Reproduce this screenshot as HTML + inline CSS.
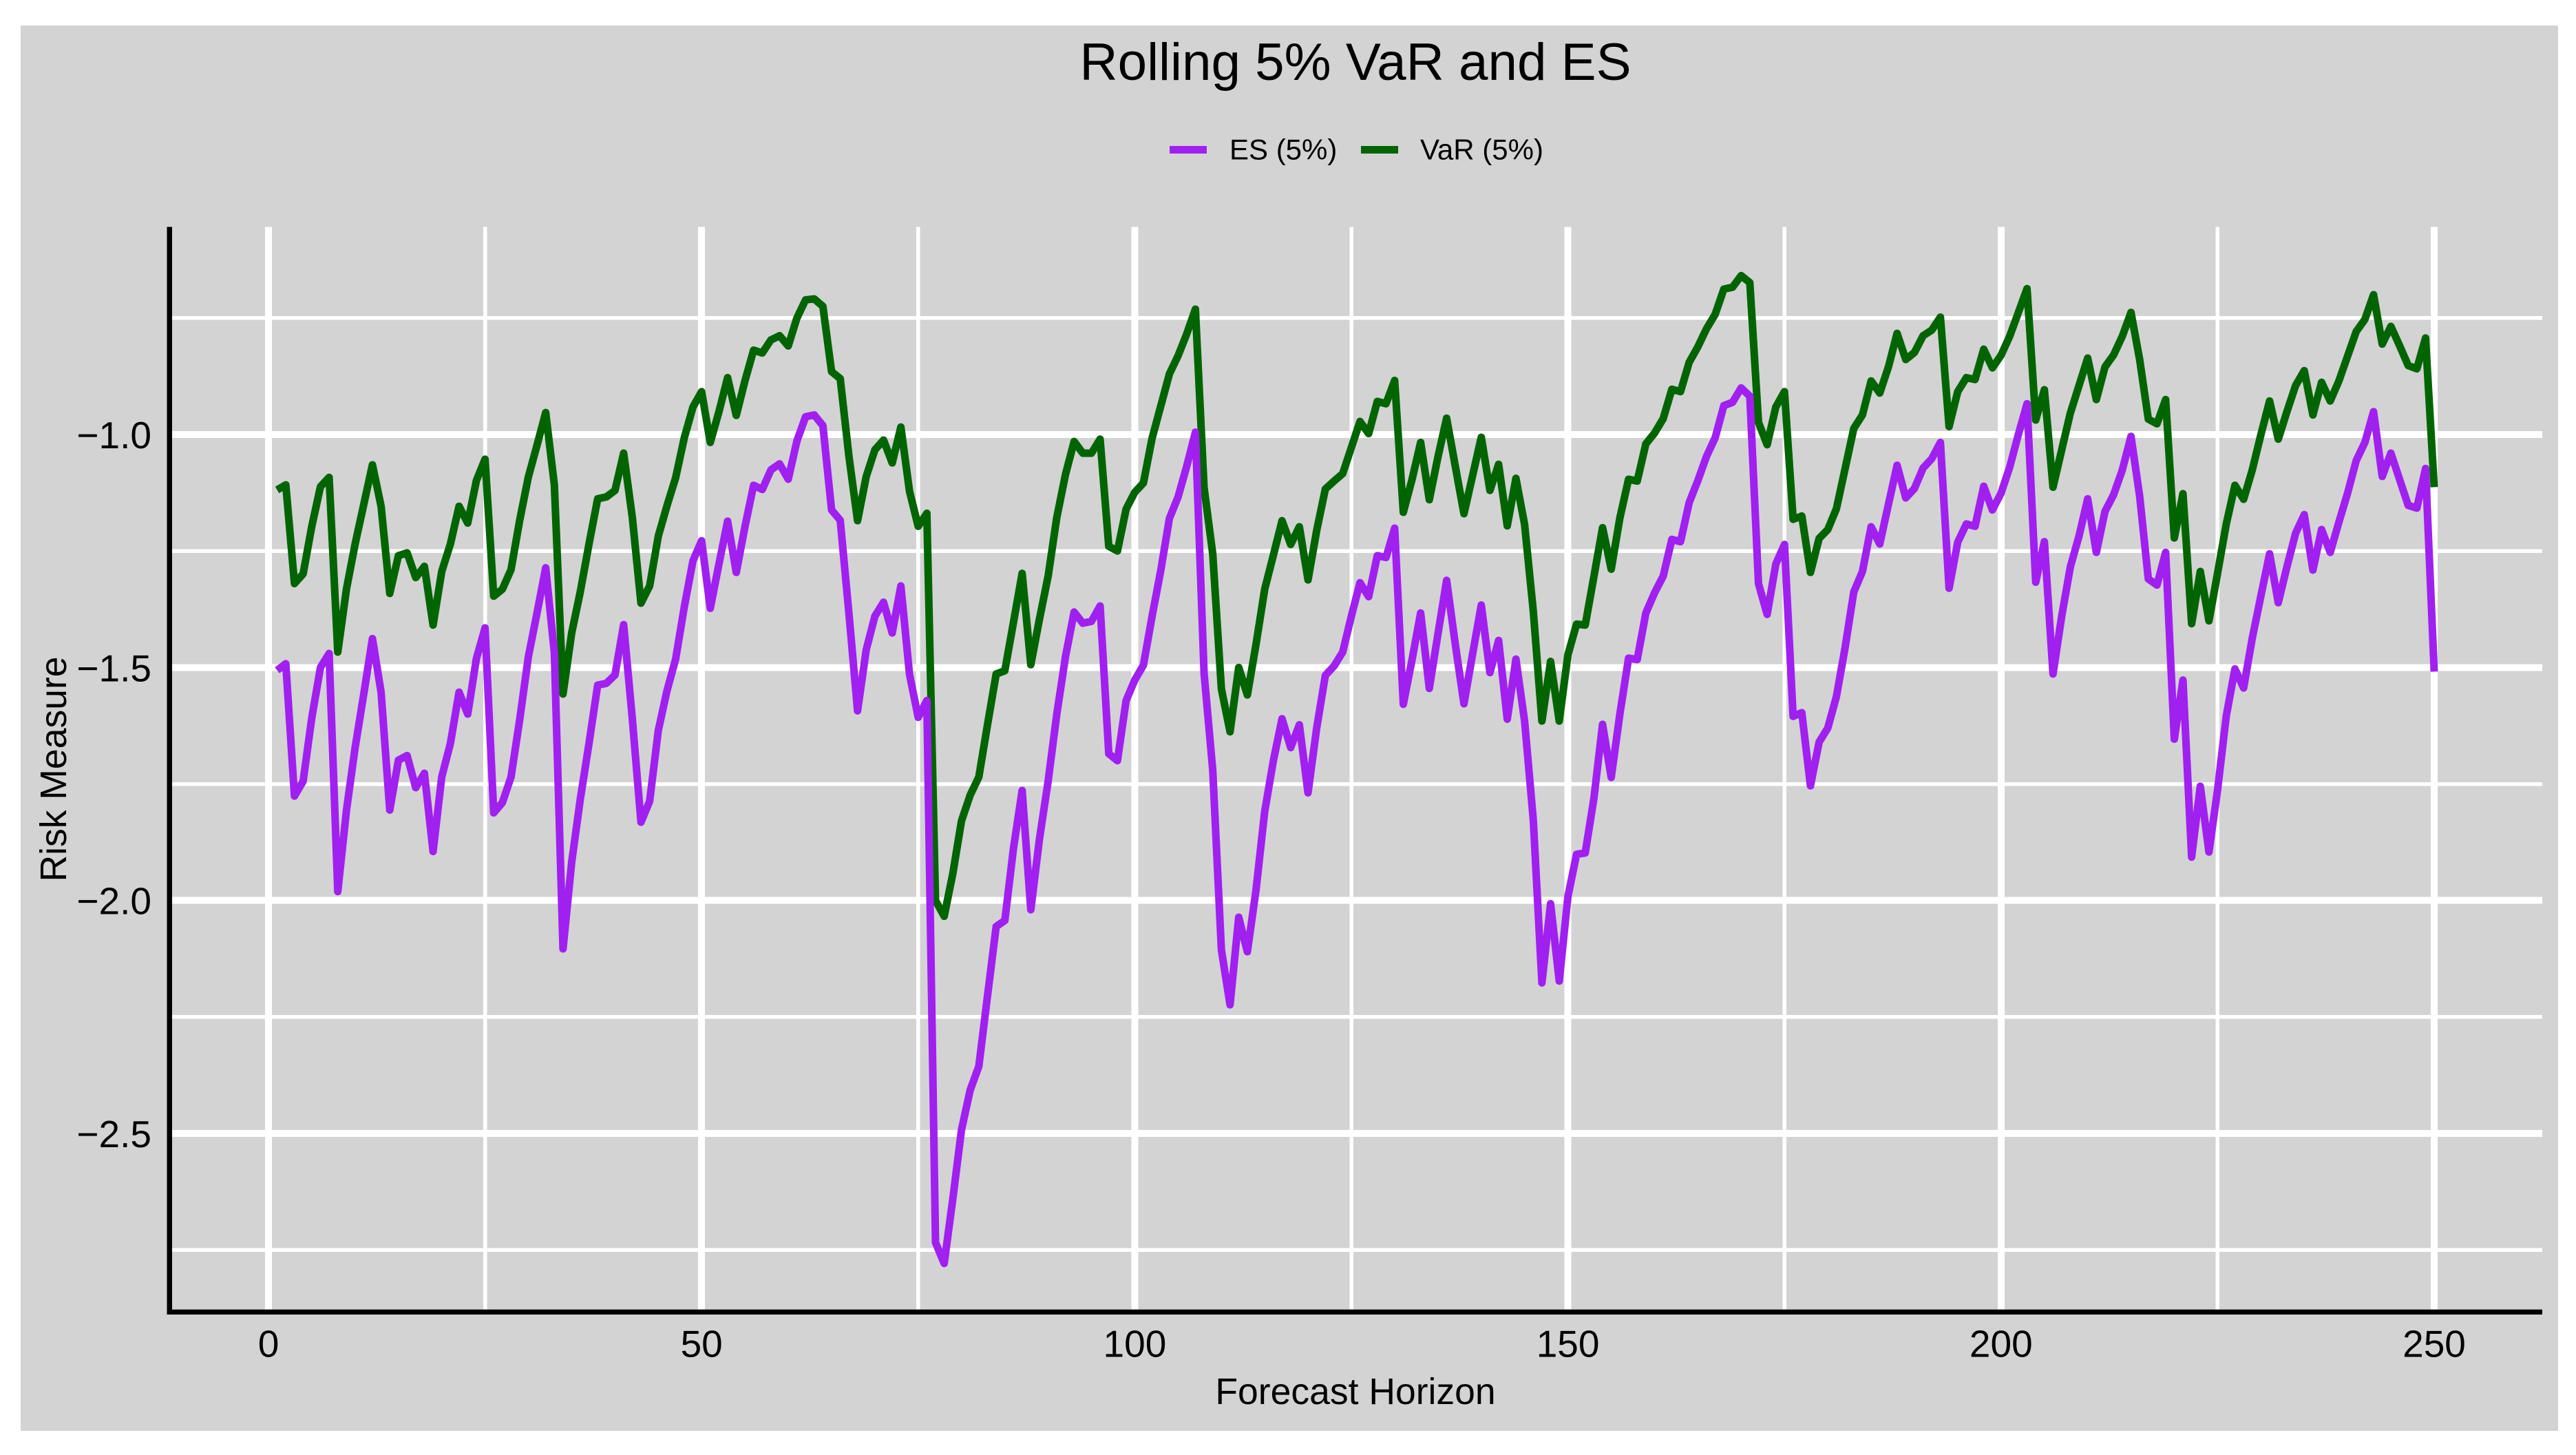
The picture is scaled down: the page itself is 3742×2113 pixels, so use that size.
<!DOCTYPE html>
<html lang="en">
<head>
<meta charset="utf-8">
<title>Rolling 5% VaR and ES</title>
<style>
html,body{margin:0;padding:0;background:#fff;}
svg{display:block;font-family:"Liberation Sans",Arial,sans-serif;}
text{fill:#000;}
</style>
</head>
<body>
<svg id="chart" xmlns="http://www.w3.org/2000/svg" width="3742" height="2113" viewBox="0 0 3742 2113">
  <rect x="30" y="37" width="3686" height="2041" fill="#D3D3D3"/>
  <g id="grid" shape-rendering="crispEdges"></g>
  <g id="series"></g>
  <rect x="242.5" y="329.5" width="7.5" height="1579.5" fill="#000"/>
  <rect x="242.5" y="1901.7" width="3450.5" height="7.3" fill="#000"/>
  <g id="ticks" font-size="55"></g>
  <text x="1969" y="116" font-size="76.4" text-anchor="middle">Rolling 5% VaR and ES</text>
  <g>
    <rect x="1699" y="212" width="54" height="11" fill="#A020F0"/>
    <text x="1786" y="231.7" font-size="42">ES (5%)</text>
    <rect x="1977" y="212" width="54" height="11" fill="#006400"/>
    <text x="2063" y="231.7" font-size="42">VaR (5%)</text>
  </g>
  <text x="1969" y="2039" font-size="53.5" text-anchor="middle">Forecast Horizon</text>
  <text transform="translate(96 1117) rotate(-90)" font-size="53.5" text-anchor="middle">Risk Measure</text>
</svg>
<script>
const esValues = [
-1.506,-1.492,-1.776,-1.744,-1.608,-1.5,-1.47,-1.981,-1.807,-1.672,
-1.557,-1.438,-1.553,-1.806,-1.699,-1.689,-1.758,-1.727,-1.895,-1.735,
-1.663,-1.553,-1.6,-1.481,-1.415,-1.812,-1.79,-1.735,-1.612,-1.477,
-1.383,-1.286,-1.468,-2.104,-1.918,-1.782,-1.663,-1.538,-1.534,-1.516,
-1.408,-1.61,-1.832,-1.787,-1.635,-1.55,-1.482,-1.37,-1.271,-1.228,
-1.373,-1.278,-1.186,-1.296,-1.198,-1.109,-1.118,-1.076,-1.063,-1.096,
-1.014,-0.962,-0.958,-0.981,-1.162,-1.184,-1.383,-1.593,-1.462,-1.39,
-1.36,-1.426,-1.325,-1.515,-1.607,-1.571,-2.734,-2.779,-2.64,-2.492,
-2.407,-2.356,-2.205,-2.056,-2.043,-1.888,-1.764,-2.02,-1.868,-1.744,
-1.6,-1.477,-1.381,-1.405,-1.401,-1.368,-1.685,-1.7,-1.571,-1.527,
-1.495,-1.39,-1.292,-1.18,-1.134,-1.068,-0.995,-1.512,-1.72,-2.106,
-2.224,-2.036,-2.11,-1.977,-1.809,-1.7,-1.61,-1.672,-1.623,-1.769,
-1.63,-1.517,-1.497,-1.467,-1.39,-1.318,-1.348,-1.26,-1.264,-1.201,
-1.579,-1.484,-1.383,-1.545,-1.428,-1.313,-1.45,-1.578,-1.471,-1.366,
-1.511,-1.442,-1.611,-1.482,-1.615,-1.826,-2.177,-2.007,-2.173,-1.992,
-1.901,-1.898,-1.781,-1.622,-1.736,-1.6,-1.48,-1.483,-1.383,-1.34,
-1.304,-1.225,-1.23,-1.146,-1.099,-1.047,-1.007,-0.938,-0.931,-0.9,
-0.918,-1.32,-1.386,-1.278,-1.236,-1.605,-1.597,-1.754,-1.66,-1.63,
-1.562,-1.457,-1.338,-1.294,-1.198,-1.235,-1.15,-1.066,-1.136,-1.116,
-1.072,-1.052,-1.017,-1.33,-1.231,-1.192,-1.197,-1.111,-1.162,-1.126,
-1.07,-1.0,-0.934,-1.317,-1.23,-1.514,-1.39,-1.284,-1.218,-1.138,
-1.253,-1.165,-1.129,-1.076,-1.004,-1.132,-1.31,-1.323,-1.253,-1.654,
-1.527,-1.907,-1.755,-1.896,-1.762,-1.604,-1.503,-1.544,-1.437,-1.346,
-1.256,-1.361,-1.284,-1.212,-1.172,-1.291,-1.204,-1.253,-1.188,-1.126,
-1.056,-1.017,-0.951,-1.09,-1.04,-1.096,-1.152,-1.158,-1.073,-1.509
];
const varValues = [
-1.119,-1.108,-1.32,-1.299,-1.197,-1.112,-1.092,-1.467,-1.332,-1.235,
-1.15,-1.065,-1.154,-1.341,-1.26,-1.254,-1.307,-1.283,-1.409,-1.294,
-1.235,-1.154,-1.19,-1.099,-1.053,-1.347,-1.332,-1.29,-1.184,-1.091,
-1.023,-0.953,-1.108,-1.557,-1.426,-1.337,-1.235,-1.138,-1.134,-1.12,
-1.04,-1.178,-1.362,-1.325,-1.218,-1.153,-1.093,-1.007,-0.941,-0.908,
-1.017,-0.951,-0.878,-0.959,-0.885,-0.819,-0.825,-0.797,-0.788,-0.81,
-0.75,-0.711,-0.709,-0.725,-0.865,-0.88,-1.046,-1.185,-1.09,-1.033,
-1.012,-1.061,-0.984,-1.122,-1.197,-1.169,-2.0,-2.034,-1.942,-1.829,
-1.774,-1.735,-1.623,-1.514,-1.507,-1.403,-1.298,-1.494,-1.396,-1.304,
-1.178,-1.086,-1.015,-1.04,-1.04,-1.01,-1.24,-1.25,-1.16,-1.124,
-1.104,-1.008,-0.939,-0.87,-0.831,-0.784,-0.731,-1.114,-1.256,-1.546,
-1.638,-1.5,-1.559,-1.45,-1.332,-1.259,-1.185,-1.236,-1.198,-1.312,
-1.206,-1.117,-1.1,-1.084,-1.028,-0.972,-0.998,-0.929,-0.934,-0.884,
-1.167,-1.097,-1.017,-1.14,-1.048,-0.965,-1.068,-1.17,-1.088,-1.006,
-1.12,-1.064,-1.196,-1.094,-1.193,-1.378,-1.615,-1.487,-1.615,-1.473,
-1.407,-1.409,-1.305,-1.2,-1.289,-1.179,-1.096,-1.1,-1.02,-0.997,
-0.966,-0.903,-0.908,-0.845,-0.812,-0.773,-0.742,-0.688,-0.684,-0.659,
-0.674,-0.974,-1.022,-0.941,-0.908,-1.182,-1.175,-1.296,-1.223,-1.204,
-1.159,-1.073,-0.987,-0.958,-0.885,-0.911,-0.855,-0.783,-0.839,-0.824,
-0.788,-0.776,-0.748,-0.983,-0.908,-0.878,-0.882,-0.817,-0.857,-0.83,
-0.789,-0.738,-0.687,-0.969,-0.904,-1.113,-1.033,-0.954,-0.895,-0.836,
-0.925,-0.855,-0.829,-0.789,-0.738,-0.839,-0.967,-0.977,-0.925,-1.222,
-1.127,-1.406,-1.294,-1.4,-1.297,-1.192,-1.109,-1.139,-1.076,-1.0,
-0.928,-1.01,-0.951,-0.895,-0.863,-0.958,-0.888,-0.928,-0.885,-0.832,
-0.779,-0.753,-0.7,-0.806,-0.768,-0.809,-0.852,-0.859,-0.793,-1.113
];
const xMajorTicks = [0, 50, 100, 150, 200, 250];
const xMinorTicks = [25, 75, 125, 175, 225];
const yMajorTicks = [-1.0, -1.5, -2.0, -2.5];
const yMinorTicks = [-0.75, -1.25, -1.75, -2.25, -2.75];
const xTickLabels = ["0", "50", "100", "150", "200", "250"];
const yTickLabels = ["\u22121.0", "\u22121.5", "\u22122.0", "\u22122.5"];

const SVG_NS = "http://www.w3.org/2000/svg";
const plotLeft = 250, plotRight = 3693, plotTop = 329.5, plotBottom = 1902;
function xScale(h) { return 390 + h * (3536 - 390) / 250; }
function yScale(v) { return 631 + (-1 - v) * (1646 - 631) / 1.5; }

const grid = document.getElementById("grid");
function addGridLine(x1, y1, x2, y2, width) {
  const l = document.createElementNS(SVG_NS, "line");
  l.setAttribute("x1", x1);
  l.setAttribute("y1", y1);
  l.setAttribute("x2", x2);
  l.setAttribute("y2", y2);
  l.setAttribute("stroke", "#fff");
  l.setAttribute("stroke-width", width);
  
  
  grid.appendChild(l);
}
yMinorTicks.forEach(v => addGridLine(plotLeft, yScale(v), plotRight, yScale(v), 5.5));
xMinorTicks.forEach(h => addGridLine(xScale(h), plotTop, xScale(h), plotBottom, 5.5));
yMajorTicks.forEach(v => addGridLine(plotLeft, yScale(v), plotRight, yScale(v), 10));
xMajorTicks.forEach(h => addGridLine(xScale(h), plotTop, xScale(h), plotBottom, 10));

const seriesGroup = document.getElementById("series");
function pathFor(values) {
  return values.map((v, i) => (i ? "L" : "M") + xScale(i + 1).toFixed(2) + " " + yScale(v).toFixed(2)).join("");
}
const varLine = document.createElementNS(SVG_NS, "path");
varLine.setAttribute("d", pathFor(varValues));
varLine.setAttribute("fill", "none");
varLine.setAttribute("stroke", "#006400");
varLine.setAttribute("stroke-width", "11");
varLine.setAttribute("stroke-linejoin", "round");


seriesGroup.appendChild(varLine);
const esLine = document.createElementNS(SVG_NS, "path");
esLine.setAttribute("d", pathFor(esValues));
esLine.setAttribute("fill", "none");
esLine.setAttribute("stroke", "#A020F0");
esLine.setAttribute("stroke-width", "11");
esLine.setAttribute("stroke-linejoin", "round");


seriesGroup.appendChild(esLine);

const ticks = document.getElementById("ticks");
xMajorTicks.forEach((h, i) => {
  const t = document.createElementNS(SVG_NS, "text");
  t.setAttribute("x", xScale(h));
  t.setAttribute("y", 1970.7);
  t.setAttribute("text-anchor", "middle");
  
  
  t.textContent = xTickLabels[i];
  ticks.appendChild(t);
});
yMajorTicks.forEach((v, i) => {
  const t = document.createElementNS(SVG_NS, "text");
  t.setAttribute("x", 220);
  t.setAttribute("y", yScale(v) + 20);
  t.setAttribute("text-anchor", "end");
  
  
  t.textContent = yTickLabels[i];
  ticks.appendChild(t);
});
</script>
</body>
</html>
